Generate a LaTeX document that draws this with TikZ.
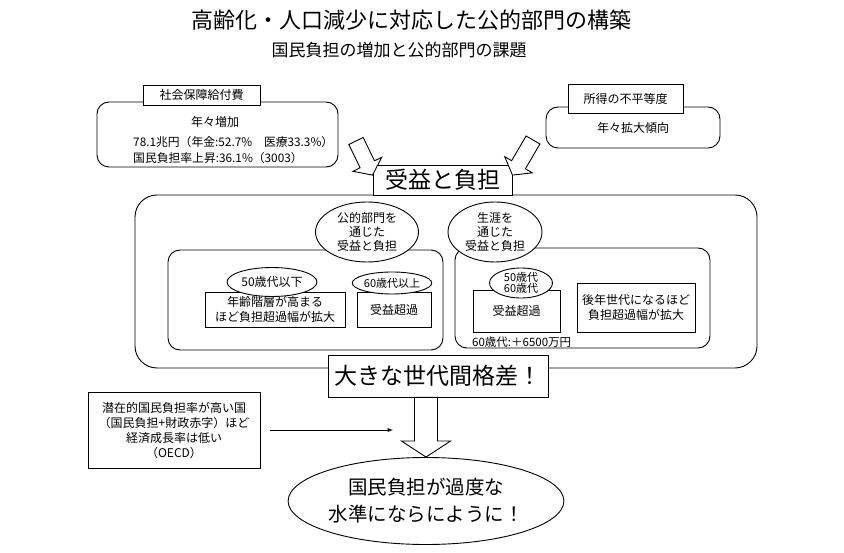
\documentclass[tikz,border=0pt]{standalone}
\usepackage{fontspec}
\setmainfont{Noto Sans CJK JP}
\usepackage{tikz}
\usetikzlibrary{calc}
\usetikzlibrary{shapes.geometric}
\newcommand{\sz}[2]{\fontsize{#1}{#2}\selectfont}
\newcommand{\hollowarrow}[5]{%
    \coordinate (hb) at ($(#2)!#5!(#1)$);
    \draw[hollow] ($(#1)!#3!90:(#2)$) -- ($(hb)!#3!90:(#2)$) -- ($(hb)!#4!90:(#2)$) -- (#2)
        -- ($(hb)!#4!-90:(#2)$) -- ($(hb)!#3!-90:(#2)$) -- ($(#1)!#3!-90:(#2)$) -- cycle;
}
\tikzset{
    common/.style={draw, line width=0.9pt, fill=white, inner sep=0pt, align=center},
    tag/.style={common, rectangle},
    panel/.style={common, rectangle, rounded corners=12pt},
    frame/.style={common, rectangle, rounded corners=22pt},
    bubble/.style={common, ellipse},
    plain/.style={inner sep=0pt, align=center},
    hollow/.style={draw, line width=0.9pt, fill=white, line join=miter},
    link/.style={-latex, line width=0.9pt}
}

\begin{document}
\begin{tikzpicture}[x=1pt, y=-1pt]
    \useasboundingbox (0,0) rectangle (844,553);

    \node[plain, font=\sz{22}{24}] (title) at (411,20) {高齢化・人口減少に対応した公的部門の構築};
    \node[plain, font=\sz{17}{19}] (subtitle) at (399,50) {国民負担の増加と公的部門の課題};

    \node[panel, minimum width=241, minimum height=65] (welfare) at (217.5,134.5) {};
    \node[tag, minimum width=117, minimum height=20, font=\sz{12}{14}] (welfaretag) at (201.5,95) {社会保障給付費};
    \node[plain, font=\sz{12}{14}] (welfaretrend) at (215,122) {年々増加};
    \node[plain, anchor=west, align=left, font=\sz{11.8}{16}] (welfarefig) at (133,150)
        {78.1兆円（年金:52.7\%　医療33.3\%）\\国民負担率上昇:36.1\%（3003）};

    \node[panel, minimum width=174, minimum height=41] (income) at (633,127.5) {};
    \node[tag, minimum width=115, minimum height=29, font=\sz{12}{14}] (incometag) at (625.5,98.5) {所得の不平等度};
    \node[plain, font=\sz{12}{14}] (incometrend) at (633,128) {年々拡大傾向};

    \node[frame, minimum width=622, minimum height=173] (outer) at (446,281.5) {};
    \node[tag, minimum width=139, minimum height=30, font=\sz{23}{25}] (benefit) at (442.5,180) {受益と負担};

    \coordinate (wtail) at (356,141);
    \coordinate (itail) at (533,140);
    \hollowarrow{wtail}{benefit.176}{8pt}{16pt}{12pt}
    \hollowarrow{itail}{benefit.4}{8pt}{16pt}{12pt}

    \node[panel, minimum width=275, minimum height=100] (public) at (305.5,300) {};
    \node[panel, minimum width=255, minimum height=100] (life) at (582.5,298) {};
    \node[bubble, minimum width=103, minimum height=60, font=\sz{12}{14}] (publicbub) at (367,232) {公的部門を\\通じた\\受益と負担};
    \node[bubble, minimum width=94, minimum height=60, font=\sz{12}{14}] (lifebub) at (495,232) {生涯を\\通じた\\受益と負担};

    \node[tag, minimum width=140, minimum height=35, font=\sz{12}{15}] (young) at (275,309.5) {年齢階層が高まる\\ほど負担超過幅が拡大};
    \node[bubble, minimum width=90, minimum height=29, font=\sz{12}{14}] (youngbub) at (272,282) {50歳代以下};
    \node[tag, minimum width=74, minimum height=35, font=\sz{12}{14}] (old) at (394,309.5) {受益超過};
    \node[bubble, minimum width=75, minimum height=22, font=\sz{11}{13}] (oldbub) at (392,283) {60歳代以上};

    \node[tag, minimum width=87, minimum height=42, font=\sz{12}{14}] (senior) at (516.5,311) {受益超過};
    \node[bubble, minimum width=63, minimum height=30, font=\sz{11}{11}] (seniorbub) at (521,283) {50歳代\\60歳代};
    \node[plain, anchor=west, font=\sz{11.5}{13}] (seniorfig) at (472,342) {60歳代:＋6500万円};
    \node[tag, minimum width=118, minimum height=49, font=\sz{12}{15}] (later) at (636,307.5) {後年世代になるほど\\負担超過幅が拡大};

    \node[tag, minimum width=220, minimum height=42, font=\sz{23}{25}] (gap) at (438,376) {大きな世代間格差！};

    \node[bubble, minimum width=208, minimum height=87, font=\sz{19.5}{27}] (goal) at (426,501) {国民負担が過度な\\水準にならにように！};
    \coordinate (gaptail) at (goal.north |- gap.south);
    \hollowarrow{gaptail}{goal.north}{11.5pt}{24.5pt}{16pt}

    \node[tag, minimum width=172, minimum height=76, font=\sz{12}{15}] (oecd) at (174,430)
        {潜在的国民負担率が高い国\\（国民負担+財政赤字）ほど\\経済成長率は低い\\（OECD）};
    \coordinate (meet) at (393,430);
    \draw[link] ([xshift=10pt]oecd.east) -- (meet);
\end{tikzpicture}
\end{document}
